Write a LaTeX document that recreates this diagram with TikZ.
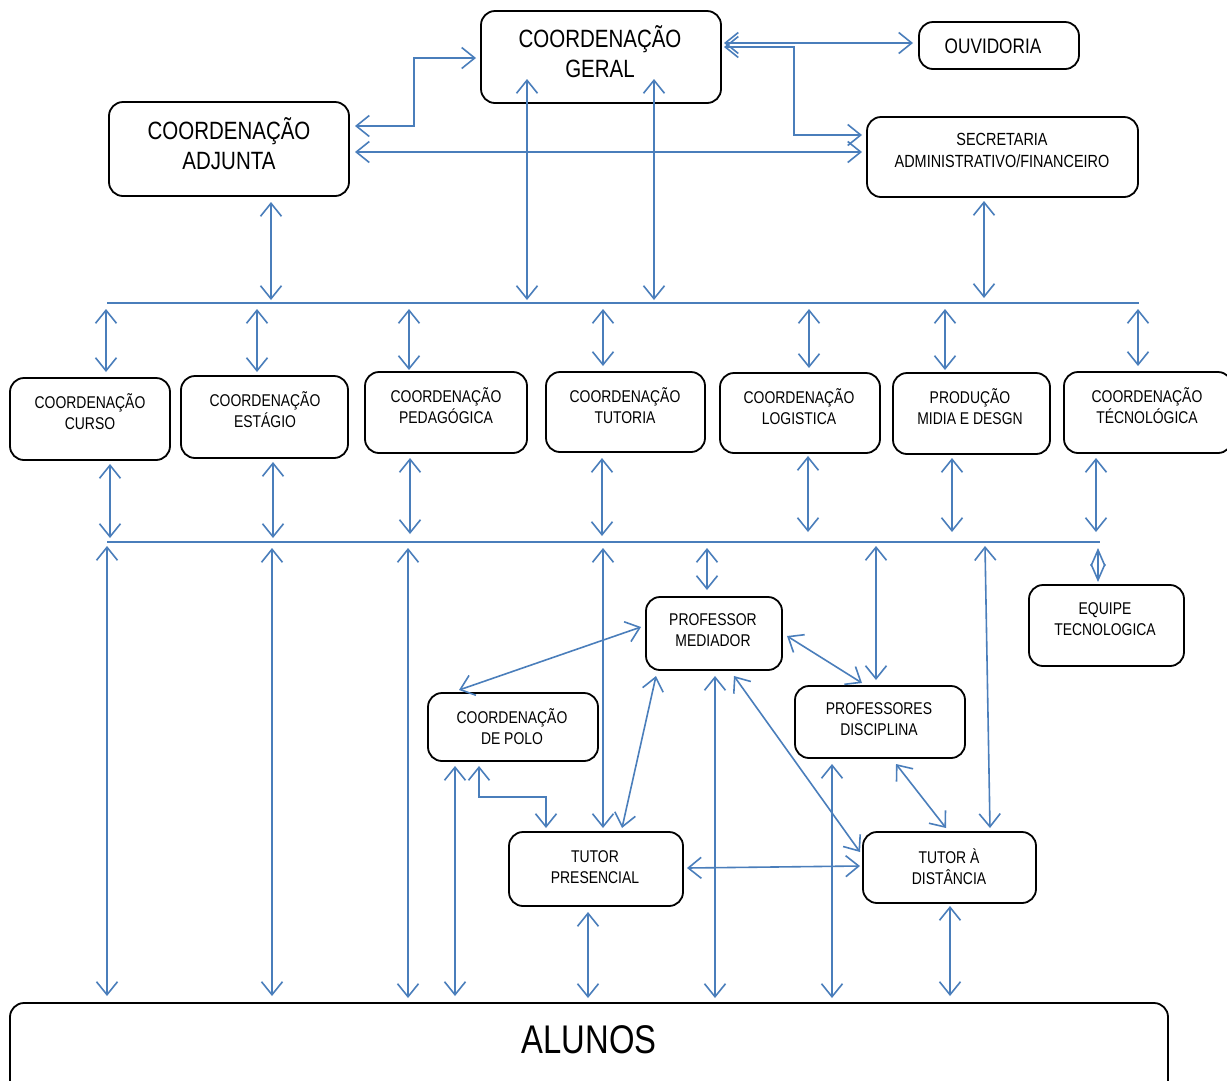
\documentclass[tikz,border=0pt]{standalone}
\usepackage{fontspec}
\setmainfont{Liberation Sans}[FakeStretch=0.82]
\usetikzlibrary{arrows.meta,fit}
\definecolor{lnblue}{RGB}{74,126,187}
\tikzset{
  box/.style={draw=black, line width=1.8pt, rounded corners=14pt, inner sep=0pt},
  st/.style={font=\fontsize{17}{21}\selectfont, align=center, inner sep=0pt},
  mt/.style={font=\fontsize{21}{26}\selectfont, align=center, inner sep=0pt},
  bt/.style={font=\fontsize{25}{30}\selectfont, align=center, inner sep=0pt},
  ht/.style={font=\fontsize{40}{48}\selectfont, align=center, inner sep=0pt},
  bus/.style={draw=lnblue, line width=1.6pt},
  dbl/.style={draw=lnblue, line width=1.6pt,
    {Straight Barb[length=13pt,width=21pt]}-{Straight Barb[length=13pt,width=21pt]}},
  dia/.style={draw=lnblue, line width=1.6pt,
    {Straight Barb[length=16pt,width=14pt]}-{Straight Barb[length=16pt,width=14pt]}}
}
\newcommand{\bx}[5]{\node[box, fit={(#2,#3) (#4,#5)}] (#1) {};}
\begin{document}
\begin{tikzpicture}[x=1pt,y=-1pt]
\useasboundingbox (0,0) rectangle (1227,1080);
\clip (0,0) rectangle (1227,1080);
\fill[white] (0,0) rectangle (1227,1080);

% ---- boxes
\bx{geral}{481}{11}{721}{103}
\node[bt] (geral-t) at (600,52) {COORDENAÇÃO\\GERAL};
\bx{ouv}{919}{22}{1079}{69}
\node[mt] (ouv-t) at (993,46) {OUVIDORIA};
\bx{adj}{109}{102}{349}{196}
\node[bt] (adj-t) at (229,144) {COORDENAÇÃO\\ADJUNTA};
\bx{sec}{867}{117}{1138}{197}
\node[st, font=\fontsize{17.6}{22}\selectfont] (sec-t) at (1002,150) {SECRETARIA\\ADMINISTRATIVO/FINANCEIRO};

\bx{curso}{10}{378}{170}{460}
\node[st] (curso-t) at (90,412) {COORDENAÇÃO\\CURSO};
\bx{estagio}{181}{376}{348}{458}
\node[st] (estagio-t) at (265,410) {COORDENAÇÃO\\ESTÁGIO};
\bx{ped}{365}{372}{527}{453}
\node[st] (ped-t) at (446,406) {COORDENAÇÃO\\PEDAGÓGICA};
\bx{tut}{546}{372}{705}{452}
\node[st] (tut-t) at (625,406) {COORDENAÇÃO\\TUTORIA};
\bx{log}{720}{373}{880}{453}
\node[st] (log-t) at (799,407) {COORDENAÇÃO\\LOGISTICA};
\bx{prod}{893}{373}{1050}{454}
\node[st] (prod-t) at (970,407) {PRODUÇÃO\\MIDIA E DESGN};
\bx{tec}{1064}{372}{1232}{453}
\node[st] (tec-t) at (1147,406) {COORDENAÇÃO\\TÉCNOLÓGICA};

\bx{med}{646}{597}{782}{670}
\node[st] (med-t) at (713,630) {PROFESSOR\\MEDIADOR};
\bx{equipe}{1029}{585}{1184}{666}
\node[st] (equipe-t) at (1105,619) {EQUIPE\\TECNOLOGICA};
\bx{polo}{428}{693}{598}{761}
\node[st] (polo-t) at (512,727) {COORDENAÇÃO\\DE POLO};
\bx{disc}{795}{686}{965}{758}
\node[st] (disc-t) at (879,719) {PROFESSORES\\DISCIPLINA};
\bx{tpres}{509}{832}{683}{906}
\node[st] (tpres-t) at (595,867) {TUTOR\\PRESENCIAL};
\bx{tdist}{863}{832}{1036}{903}
\node[st] (tdist-t) at (949,867) {TUTOR À\\DISTÂNCIA};
\bx{alunos}{10}{1003}{1168}{1100}
\node[ht] (alunos-t) at (589,1040) {ALUNOS};

% ---- buses
\coordinate (b1l) at (107,303); \coordinate (b1r) at (1139,303);
\draw[bus] (b1l) -- (b1r);
\coordinate (b2l) at (107,542); \coordinate (b2r) at (1100,542);
\draw[bus] (b2l) -- (b2r);

% ---- top connectors
\draw[dbl] (355,126) -- (414,126) -- (414,58) -- (476,58);
\draw[dbl] (355,152) -- (862,152);
\draw[dbl] (724,43) -- (913,43);
\draw[dbl] (724,47) -- (794,47) -- (794,135) -- (862,135);
\draw[dbl] (527,79) -- (527,300);
\draw[dbl] (654,79) -- (654,300);
\draw[dbl] (271,202) -- (271,300);
\draw[dbl] (984,201) -- (984,298);

% ---- bus1 to row
\foreach \x/\yb in {106/372,257/372,409/370,603/366,809/368,945/370,1138/366}
  \draw[dbl] (\x,309) -- (\x,\yb);

% ---- row to bus2
\foreach \x/\ya/\yb in {110/464/538,273/462/538,410/458/534,602/458/536,808/456/532,952/458/532,1096/458/532}
  \draw[dbl] (\x,\ya) -- (\x,\yb);

\draw[dia] (1098,548) -- (1098,582);

% ---- bus2 down
\draw[dbl] (107,546) -- (107,996);
\draw[dbl] (272,548) -- (272,996);
\draw[dbl] (408,548) -- (408,998);
\draw[dbl] (603,548) -- (603,828);
\draw[dbl] (707,548) -- (707,590);
\draw[dbl] (876,546) -- (876,680);
\draw[dbl] (985,546) -- (990,828);

% ---- lower connectors
\draw[dbl] (641,627) -- (459,690);
\draw[dbl] (787,636) -- (862,683);
\draw[dbl] (656,676) -- (622,828);
\draw[dbl] (715,676) -- (715,998);
\draw[dbl] (734,676) -- (860,852);
\draw[dbl] (455,766) -- (455,996);
\draw[dbl] (479,766) -- (479,797) -- (546,797) -- (546,828);
\draw[dbl] (687,868) -- (860,866);
\draw[dbl] (588,912) -- (588,998);
\draw[dbl] (832,764) -- (832,998);
\draw[dbl] (896,764) -- (946,828);
\draw[dbl] (950,906) -- (950,996);
\end{tikzpicture}
\end{document}
